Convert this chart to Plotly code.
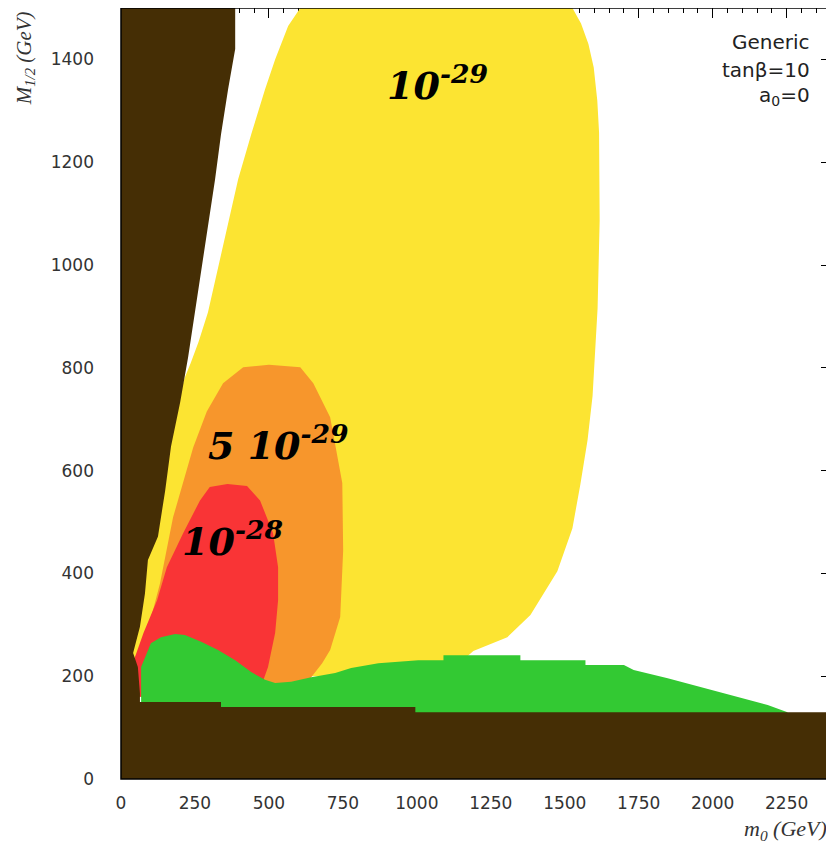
import plotly.graph_objects as go

# ---- region boundaries (m0 [GeV], M1/2 [GeV]) ----
yellow_m0 = [606, 1526, 1555, 1580, 1598, 1610, 1616, 1618, 1611, 1594, 1577, 1553, 1526, 1475, 1384, 1306, 1191, 1150, 1150, 20, 20, 40, 70, 110, 140, 160, 195, 215, 236, 262, 294, 328, 362, 396, 440, 487, 521, 565, 606]
yellow_M = [1500, 1500, 1470, 1430, 1384, 1320, 1258, 1087, 916, 745, 659, 574, 488, 404, 319, 276, 249, 228, 200, 200, 220, 300, 400, 480, 560, 650, 740, 780, 810, 850, 908, 994, 1081, 1167, 1254, 1342, 1400, 1465, 1500]

orange_m0 = [30, 50, 88, 132, 176, 244, 290, 345, 413, 500, 606, 650, 707, 748, 751, 741, 707, 680, 643, 643, 30]
orange_M = [180, 240, 284, 381, 509, 645, 715, 770, 801, 806, 801, 770, 704, 576, 445, 315, 251, 225, 198, 160, 160]

red_m0 = [30, 47, 76, 122, 155, 210, 267, 300, 360, 426, 470, 514, 531, 531, 521, 497, 481, 481, 30]
red_M = [200, 237, 284, 348, 412, 478, 542, 568, 574, 570, 542, 478, 412, 348, 284, 218, 192, 160, 160]

green_m0 = [68, 68, 101, 135, 183, 216, 271, 328, 386, 440, 487, 521, 575, 643, 724, 778, 870, 1005, 1090, 1090, 1350, 1350, 1570, 1570, 1700, 1733, 1848, 1959, 2071, 2186, 2253, 2253, 68]
green_M = [125, 218, 264, 276, 282, 280, 267, 251, 231, 208, 193, 187, 189, 198, 206, 216, 225, 231, 231, 241, 241, 231, 231, 222, 222, 212, 196, 179, 163, 144, 130, 125, 125]

brown_m0 = [0, 2400, 2400, 995, 995, 338, 338, 64, 64, 57, 41, 64, 81, 91, 125, 149, 169, 200, 227, 250, 271, 294, 318, 338, 362, 386, 386, 0]
brown_M = [0, 0, 130, 130, 140, 140, 150, 150, 167, 218, 245, 296, 361, 426, 472, 560, 647, 733, 821, 908, 994, 1081, 1167, 1254, 1342, 1420, 1500, 1500]

x_ticks = [0, 250, 500, 750, 1000, 1250, 1500, 1750, 2000, 2250]
y_ticks = [0, 200, 400, 600, 800, 1000, 1200, 1400]

regions = [
    ("10^-29", yellow_m0, yellow_M, "#FCE432"),
    ("5 10^-29", orange_m0, orange_M, "#F7962C"),
    ("10^-28", red_m0, red_M, "#F93436"),
    ("LEP excluded", green_m0, green_M, "#33C933"),
    ("excluded", brown_m0, brown_M, "#452E05"),
]

fig = go.Figure()
for name, xs, ys, col in regions:
    fig.add_trace(go.Scatter(x=xs, y=ys, mode="lines", fill="toself", fillcolor=col,
                             line=dict(width=0, color=col), name=name,
                             hoverinfo="skip", showlegend=False))

tickfont = dict(family="DejaVu Sans", size=17, color="#333333")
fig.update_xaxes(range=[0, 2400], tickvals=x_ticks, ticks="inside", ticklen=10, tickcolor="black",
                 mirror="allticks", showline=False, showgrid=False, zeroline=False,
                 minor=dict(dtick=50, ticks="inside", ticklen=5, tickcolor="black"),
                 tickfont=tickfont, ticklabelstandoff=12, layer="below traces", automargin=False)
fig.update_yaxes(range=[0, 1500], tickvals=y_ticks, ticks="inside", ticklen=10, tickcolor="black",
                 mirror="allticks", showline=False, showgrid=False, zeroline=False,
                 minor=dict(dtick=50, ticks="inside", ticklen=5, tickcolor="black"),
                 tickfont=tickfont, ticklabelstandoff=26, layer="below traces", automargin=False)

lab = dict(family="DejaVu Serif", size=38, color="black")
sans = dict(family="DejaVu Sans", size=20, color="#222")
annotations = [
    dict(x=1069, y=1354, text="<b><i>10<sup>-29</sup></i></b>", font=lab),
    dict(x=532, y=654, text="<b><i>5 10<sup>-29</sup></i></b>", font=lab),
    dict(x=376, y=467, text="<b><i>10<sup>-28</sup></i></b>", font=lab),
    dict(x=2335, y=1433, text="Generic", xanchor="right", yanchor="middle", font=sans),
    dict(x=2335, y=1379, text="tanβ=10", xanchor="right", yanchor="middle", font=sans),
    dict(x=2335, y=1328, text="a<sub>0</sub>=0", xanchor="right", yanchor="middle", font=sans),
    dict(xref="paper", yref="paper", x=-0.135, y=0.935, textangle=-90, xanchor="center", yanchor="middle",
         text="<i>M<sub>1/2</sub> (GeV)</i>", font=dict(family="Liberation Serif", size=21, color="#333")),
    dict(xref="paper", yref="paper", x=0.9366, y=-0.066, xanchor="center", yanchor="middle",
         text="<i>m<sub>0</sub> (GeV)</i>", font=dict(family="Liberation Serif", size=22, color="#333")),
]
for a in annotations:
    a.setdefault("showarrow", False)
    fig.add_annotation(**a)

fig.add_shape(type="rect", xref="paper", yref="paper", x0=0, y0=0, x1=1, y1=1,
              line=dict(color="black", width=1.5), layer="above")

# the page adds an 8 px body margin; margins compensate so the plot area sits where the reference has it
fig.update_layout(width=834, height=850, margin=dict(l=113, r=11, t=0, b=79),
                  plot_bgcolor="white", paper_bgcolor="white")
fig.write_html("out.html")
